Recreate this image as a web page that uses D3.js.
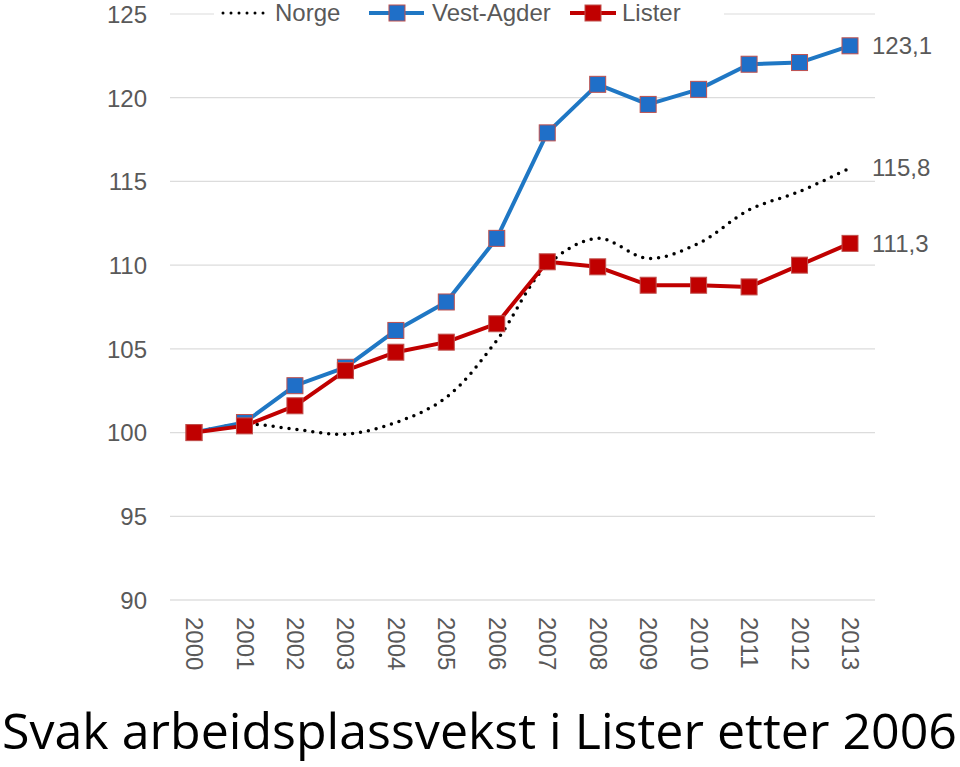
<!DOCTYPE html>
<html><head><meta charset="utf-8">
<script src="https://cdn.jsdelivr.net/npm/d3@7"></script>
<style>body{margin:0;background:#fff;}svg{display:block;}</style>
</head><body>
<svg id="c" width="960" height="767"></svg>
<script>
const years = [2000,2001,2002,2003,2004,2005,2006,2007,2008,2009,2010,2011,2012,2013];
const norge = [100,100.5,100.2,99.9,100.6,102.1,105.5,110.0,111.6,110.4,111.3,113.3,114.4,115.8];
const vestAgder = [100,100.6,102.8,103.9,106.1,107.8,111.6,117.9,120.8,119.6,120.5,122.0,122.1,123.1];
const lister = [100,100.4,101.6,103.7,104.8,105.4,106.5,110.2,109.9,108.8,108.8,108.7,110.0,111.3];
const yTicks = [90,95,100,105,110,115,120,125];
const endLabels = ["123,1","115,8","111,3"];
const title = "Svak arbeidsplassvekst i Lister etter 2006";

const svg = d3.select("#c");
const font = "Liberation Sans, Arial, sans-serif";
const x = d3.scalePoint().domain(years).range([194, 850]);
const y = d3.scaleLinear().domain([90,125]).range([600, 14]);

// gridlines
svg.append("g").selectAll("line").data(yTicks).join("line")
  .attr("x1",170).attr("x2",875).attr("y1",d=>y(d)).attr("y2",d=>y(d))
  .attr("stroke",d=>d===90?"#d0d0d0":"#dcdcdc").attr("stroke-width",1.2);

// y axis
const ya = svg.append("g").attr("transform","translate(147,0)")
  .call(d3.axisLeft(y).tickValues(yTicks).tickSize(0).tickPadding(0));
ya.select(".domain").remove();
ya.selectAll("text").attr("font-family",font).attr("font-size",24).attr("fill","#595959").attr("dy","0.35em");

// x axis labels rotated
const xa = svg.append("g").attr("transform","translate(0,617)")
  .call(d3.axisBottom(x).tickSize(0).tickPadding(0).tickFormat(d3.format("d")));
xa.select(".domain").remove();
xa.selectAll("text").attr("font-family",font).attr("font-size",24).attr("fill","#595959")
  .attr("transform","rotate(90)").attr("text-anchor","start").attr("dy","0.35em").attr("x",0).attr("y",0);

// Norge dotted smooth
const lineSmooth = d3.line().x((d,i)=>x(years[i])).y(d=>y(d)).curve(d3.curveCatmullRom.alpha(0.5));
const lineStraight = d3.line().x((d,i)=>x(years[i])).y(d=>y(d));

svg.append("path").datum(norge).attr("d",lineSmooth).attr("fill","none")
  .attr("stroke","#000").attr("stroke-width",3.5).attr("stroke-linecap","round").attr("stroke-dasharray","0 8");

function series(data, color, fill){
  svg.append("path").datum(data).attr("d",lineStraight).attr("fill","none")
    .attr("stroke",color).attr("stroke-width",4).attr("stroke-linejoin","round");
  svg.append("g").selectAll("rect").data(data).join("rect")
    .attr("x",(d,i)=>x(years[i])-8).attr("y",d=>y(d)-8).attr("width",16).attr("height",16)
    .attr("fill",fill).attr("stroke","#c0504d").attr("stroke-width",1);
}
series(vestAgder,"#1f77c4","#1f6fc8");
series(lister,"#c00000","#c00000");

// end labels
const lastVals = [vestAgder[13], norge[13], lister[13]];
svg.append("g").selectAll("text").data(endLabels).join("text")
  .attr("x",872).attr("y",(d,i)=>y(lastVals[i])).attr("dy","0.35em")
  .attr("font-family",font).attr("font-size",24).attr("fill","#595959").text(d=>d);

// legend
const ly = 13;
const lg = svg.append("g");
lg.append("rect").attr("x",214).attr("y",0).attr("width",510).attr("height",28).attr("fill","#fff");
lg.append("line").attr("x1",223).attr("x2",265).attr("y1",ly).attr("y2",ly)
  .attr("stroke","#000").attr("stroke-width",3).attr("stroke-linecap","round").attr("stroke-dasharray","0 8");
lg.append("text").attr("x",275).attr("y",ly).attr("dy","0.35em").attr("font-family",font).attr("font-size",24).attr("fill","#595959").text("Norge");
lg.append("line").attr("x1",369).attr("x2",424).attr("y1",ly).attr("y2",ly).attr("stroke","#1f77c4").attr("stroke-width",4);
lg.append("rect").attr("x",389).attr("y",ly-8).attr("width",16).attr("height",16).attr("fill","#1f6fc8").attr("stroke","#c0504d");
lg.append("text").attr("x",432).attr("y",ly).attr("dy","0.35em").attr("font-family",font).attr("font-size",24).attr("fill","#595959").text("Vest-Agder");
lg.append("line").attr("x1",570).attr("x2",616).attr("y1",ly).attr("y2",ly).attr("stroke","#c00000").attr("stroke-width",4);
lg.append("rect").attr("x",585).attr("y",ly-8).attr("width",16).attr("height",16).attr("fill","#c00000").attr("stroke","#c0504d");
lg.append("text").attr("x",622).attr("y",ly).attr("dy","0.35em").attr("font-family",font).attr("font-size",24).attr("fill","#595959").text("Lister");

// title
svg.append("text").attr("x",2).attr("y",749).attr("font-family","Open Sans, sans-serif").attr("font-size",49)
  .attr("fill","#000").attr("textLength",955).attr("lengthAdjust","spacingAndGlyphs").text(title);
</script>
</body></html>
